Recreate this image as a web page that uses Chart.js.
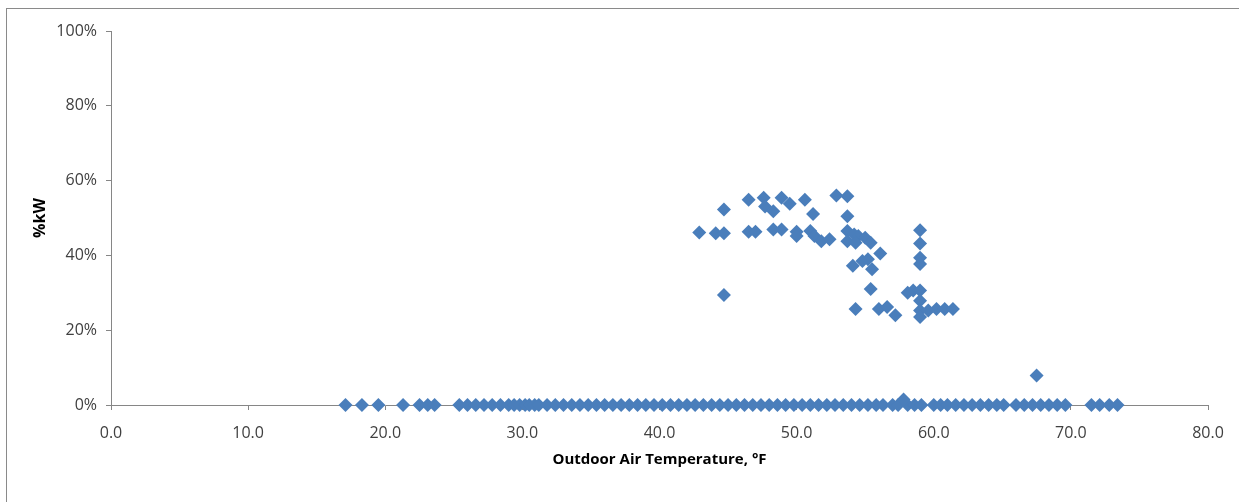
<!DOCTYPE html>
<html>
<head>
<meta charset="utf-8">
<script src="https://cdn.jsdelivr.net/npm/chart.js@4/dist/chart.umd.min.js"></script>
<style>
  html, body { margin: 0; padding: 0; background: #fff; }
  #chart { display: block; }
</style>
</head>
<body>
<canvas id="chart" width="1239" height="502"></canvas>
<script>
// outdoor air temperature (°F) and %kW
const tempF = [
  // readings at 0%
  17.1, 18.3, 19.5, 21.3, 22.5, 23.1, 23.6,
  25.4, 26.0, 26.6, 27.2, 27.8, 28.4, 29.0, 29.4, 29.8, 30.2, 30.5, 30.9, 31.2, 31.8,
  32.4, 33.0, 33.6, 34.2, 34.8, 35.4, 36.0, 36.6, 37.2, 37.8, 38.4, 39.0, 39.6, 40.2,
  40.8, 41.4, 42.0, 42.6, 43.2, 43.8, 44.4, 45.0, 45.6, 46.2, 46.8, 47.4, 48.0, 48.6,
  49.2, 49.8, 50.4, 51.0, 51.6, 52.2, 52.8, 53.4, 54.0, 54.6, 55.2, 55.8, 56.3,
  57.0, 57.4, 58.1, 58.6, 59.1,
  60.0, 60.5, 61.0, 61.6, 62.2, 62.8, 63.4, 64.0, 64.6, 65.1,
  66.0, 66.6, 67.2, 67.8, 68.4, 69.0, 69.6,
  71.5, 72.1, 72.8, 73.4,
  // small loads
  57.8, 67.5,
  // the loaded cluster
  42.9, 44.1, 44.7, 44.7, 44.7, 46.5, 46.5, 47.0, 47.6, 47.7,
  48.3, 48.3, 48.9, 48.9, 49.5, 50.0, 50.0, 50.6, 51.2, 51.0,
  51.3, 51.8, 52.4, 52.9, 53.7, 53.7, 53.7, 53.7, 54.2, 54.5,
  55.0, 55.4, 54.3, 56.1, 54.1, 54.8, 55.2, 55.5, 55.4, 54.3,
  56.0, 56.6, 57.2, 59.0, 59.0, 59.0, 59.0, 58.5, 59.0, 59.0,
  59.0, 59.0, 59.6, 60.2, 60.8, 61.4, 58.1
];
const pctKw = [
  0, 0, 0, 0, 0, 0, 0,
  0, 0, 0, 0, 0, 0, 0, 0, 0, 0, 0, 0, 0, 0,
  0, 0, 0, 0, 0, 0, 0, 0, 0, 0, 0, 0, 0, 0,
  0, 0, 0, 0, 0, 0, 0, 0, 0, 0, 0, 0, 0, 0,
  0, 0, 0, 0, 0, 0, 0, 0, 0, 0, 0, 0, 0,
  0, 0, 0, 0, 0,
  0, 0, 0, 0, 0, 0, 0, 0, 0, 0,
  0, 0, 0, 0, 0, 0, 0,
  0, 0, 0, 0,
  1.5, 7.9,
  46.1, 45.9, 45.9, 52.3, 29.4, 54.9, 46.3, 46.3, 55.4, 53.1,
  51.8, 46.9, 46.9, 55.4, 53.8, 46.3, 45.2, 54.9, 51.1, 46.5,
  45.2, 43.8, 44.3, 56.0, 55.8, 50.5, 46.5, 43.8, 45.6, 45.2,
  44.7, 43.4, 43.4, 40.5, 37.2, 38.5, 39.0, 36.3, 31.0, 25.7,
  25.7, 26.2, 24.0, 46.7, 43.2, 39.4, 37.7, 30.6, 30.6, 27.9,
  25.3, 23.5, 25.3, 25.7, 25.7, 25.7, 30.0
];
const xTicks = [0, 10, 20, 30, 40, 50, 60, 70, 80];
const yTicks = [0, 20, 40, 60, 80, 100];

const axisGray = '#868686';
const textColor = '#404040';
const fontFamily = '"Open Sans", sans-serif';

// white page plus the outer frame of the original sheet
const framePlugin = {
  id: 'frame',
  beforeDraw(chart) {
    const ctx = chart.ctx;
    ctx.save();
    ctx.fillStyle = '#fff';
    ctx.fillRect(0, 0, chart.width, chart.height);
    ctx.strokeStyle = '#8a8a8a';
    ctx.lineWidth = 1;
    ctx.strokeRect(6.5, 8.5, chart.width + 20, chart.height + 20);
    ctx.restore();
  }
};

const points = tempF.map((t, i) => ({ x: t, y: pctKw[i] }));

new Chart(document.getElementById('chart'), {
  type: 'scatter',
  data: {
    datasets: [{
      label: '%kW',
      data: points,
      clip: false,
      pointStyle: 'rectRot',
      pointRadius: 7,
      pointHoverRadius: 7,
      pointBorderWidth: 0,
      backgroundColor: '#4A7EBB',
      borderColor: '#4A7EBB'
    }]
  },
  options: {
    responsive: false,
    animation: false,
    layout: { padding: { top: 31, right: 31, bottom: 0, left: 0 } },
    plugins: {
      legend: { display: false },
      tooltip: { enabled: false }
    },
    scales: {
      x: {
        type: 'linear',
        min: 0,
        max: 80,
        afterBuildTicks: s => { s.ticks = xTicks.map(v => ({ value: v })); },
        afterFit: s => { s.height = 97; },
        grid: { drawOnChartArea: false, drawTicks: true, tickLength: 5, color: axisGray },
        border: { color: axisGray },
        ticks: {
          padding: 14,
          color: textColor,
          font: { family: fontFamily, size: 16 },
          callback: v => Number(v).toFixed(1)
        },
        title: {
          display: true,
          text: 'Outdoor Air Temperature, °F',
          color: '#000',
          font: { family: fontFamily, size: 15, weight: 'bold' },
          padding: { top: 0, bottom: 33 }
        }
      },
      y: {
        min: 0,
        max: 100,
        afterBuildTicks: s => { s.ticks = yTicks.map(v => ({ value: v })); },
        afterFit: s => { s.width = 111; },
        grid: { drawOnChartArea: false, drawTicks: true, tickLength: 5, color: axisGray },
        border: { color: axisGray },
        ticks: {
          padding: 9,
          color: textColor,
          font: { family: fontFamily, size: 16 },
          callback: v => v + '%'
        },
        title: {
          display: true,
          text: '%kW',
          color: '#000',
          font: { family: fontFamily, size: 16, weight: 'bold' },
          padding: { top: 31, bottom: 0 }
        }
      }
    }
  },
  plugins: [framePlugin]
});
</script>
</body>
</html>
